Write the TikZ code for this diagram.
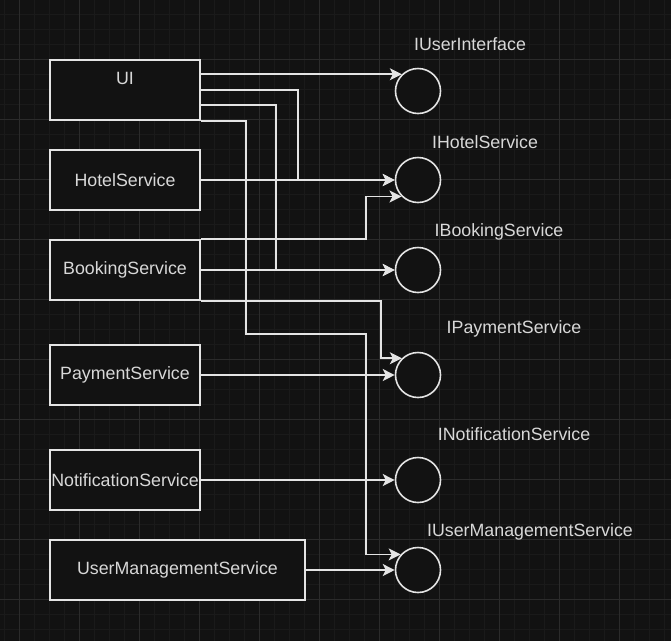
\documentclass[tikz,border=0pt]{standalone}
\usepackage{fontspec}
\setmainfont{Liberation Sans}
\usetikzlibrary{arrows.meta}
\definecolor{bg}{HTML}{121212}
\definecolor{gridminor}{HTML}{1A1A1A}
\definecolor{gridmajor}{HTML}{2B2B2B}
\definecolor{edge}{HTML}{E4E4E4}
\definecolor{txt}{HTML}{D8D8D8}

\begin{document}
\begin{tikzpicture}[x=1pt, y=-1pt,
    box/.style={draw=edge, line width=1.6pt, fill=bg, minimum width=150pt,
      minimum height=60pt, inner sep=0pt, text=txt,
      font=\fontsize{17.8}{20}\selectfont},
    iface/.style={circle, draw=edge, line width=1.6pt, fill=bg,
      minimum size=45pt, inner sep=0pt},
    lbl/.style={text=txt, inner sep=0pt, font=\fontsize{17.8}{20}\selectfont},
    wire/.style={draw=edge, line width=1.6pt,
      -{Stealth[length=12pt, width=12pt, inset=3pt]}}]

    % background and grid
    \useasboundingbox (0,0) rectangle (671,641);
    \fill[bg] (0,0) rectangle (671,641);
    \foreach \gx in {4,19,...,670} \draw[gridminor, line width=0.8pt] (\gx,0) -- (\gx,641);
    \foreach \gy in {14,29,...,640} \draw[gridminor, line width=0.8pt] (0,\gy) -- (671,\gy);
    \foreach \gx in {19,79,...,670} \draw[gridmajor, line width=1pt] (\gx,0) -- (\gx,641);
    \foreach \gy in {59,119,...,640} \draw[gridmajor, line width=1pt] (0,\gy) -- (671,\gy);

    % components
    \node[box, label={[lbl, anchor=center, yshift=-19pt]north:UI}] (ui) at (125, 90) {};
    \node[box] (hotel) at (125, 180) {HotelService};
    \node[box] (booking) at (125, 270) {BookingService};
    \node[box] (payment) at (125, 375) {PaymentService};
    \node[box] (notify) at (125, 480) {NotificationService};
    \node[box, minimum width=255pt] (usermgmt) at (177.5, 570) {UserManagementService};

    % interfaces
    \node[iface] (iui) at (418, 91) {};
    \node[iface] (ihotel) at (418, 180) {};
    \node[iface] (ibooking) at (418, 270) {};
    \node[iface] (ipayment) at (418, 375) {};
    \node[iface] (inotify) at (418, 480) {};
    \node[iface] (iusermgmt) at (418, 570) {};

    \node[lbl] (iuitext) at ([xshift=52pt, yshift=47pt]iui.center) {IUserInterface};
    \node[lbl] (ihoteltext) at ([xshift=67pt, yshift=38pt]ihotel.center) {IHotelService};
    \node[lbl] (ibookingtext) at ([xshift=81pt, yshift=38pt]ibooking.center) {IBookingService};
    \node[lbl] (ipaymenttext) at ([xshift=96pt, yshift=46pt]ipayment.center) {IPaymentService};
    \node[lbl] (inotifytext) at ([xshift=96pt, yshift=46pt]inotify.center) {INotificationService};
    \node[lbl] (iusermgmttext) at ([xshift=112pt, yshift=38pt]iusermgmt.center) {IUserManagementService};

    % UI uses
    \draw[wire] (ui.east |- iui.134.7) -- (iui.134.7);
    \draw[wire] (ui.east) -- ++(97,0) |- (ihotel.west);
    \draw[wire] ([yshift=-15pt]ui.east) -- ++(75,0) |- (ibooking.west);
    \draw[wire] (ui.south east) -- ++(45,0) -- ++(0,213) -- ++(120,0) |- (iusermgmt.138.2);

    % BookingService uses
    \draw[wire] (booking.north east) -- ++(165,0) |- (ihotel.225.3);
    \draw[wire] (booking.south east) -- ++(180,0) |- (ipayment.134.7);

    % implementations
    \draw[wire] (hotel.east) -- (ihotel.west);
    \draw[wire] (booking.east) -- (ibooking.west);
    \draw[wire] (payment.east) -- (ipayment.west);
    \draw[wire] (notify.east) -- (inotify.west);
    \draw[wire] (usermgmt.east) -- (iusermgmt.west);
\end{tikzpicture}
\end{document}
